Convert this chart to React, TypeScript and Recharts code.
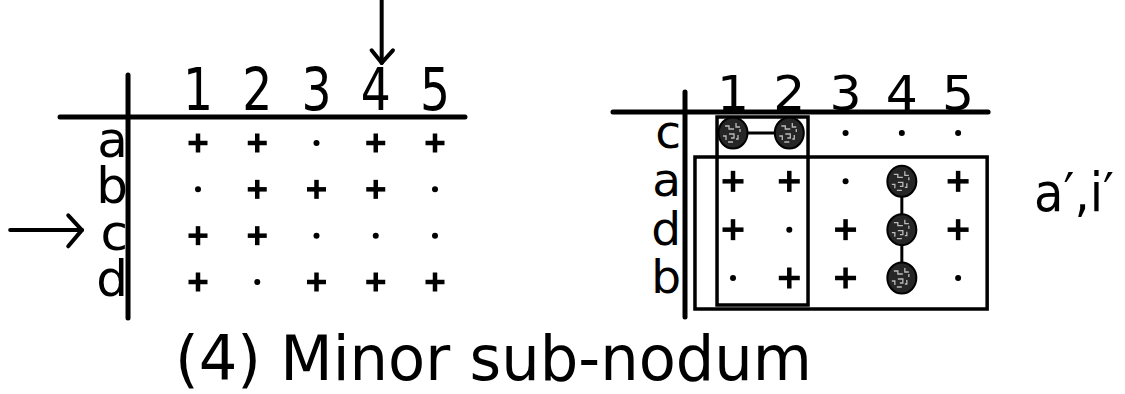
import React from 'react';
import { ScatterChart, Scatter, XAxis, YAxis, ReferenceLine, ReferenceArea } from 'recharts';

// ---------- data ----------
const COLUMN_LABELS = ['1', '2', '3', '4', '5'];
const LEFT_ROW_LABELS = ['a', 'b', 'c', 'd'];
const LEFT_ROW_MARKS = ['++.++', '.+++.', '++...', '+.+++'];
const RIGHT_ROW_LABELS = ['c', 'a', 'd', 'b'];
const RIGHT_ROW_MARKS = ['oo...', '++.o+', '+.+o+', '.++o.'];
const POINTED_COLUMN = 4;
const POINTED_ROW = 'c';
const CAPTION = '(4) Minor sub-nodum';
const SIDE_NOTE = 'a\u2032,i\u2032';

const FONT = "'DejaVu Sans', 'Liberation Sans', sans-serif";
const INK = '#000';

type Cell = { col: number; row: number; kind: string };

function toCells(marks: string[]): Cell[] {
  const out: Cell[] = [];
  marks.forEach((line, r) =>
    line.split('').forEach((k, c) => out.push({ col: c + 1, row: r + 1, kind: k }))
  );
  return out;
}

function linkedGroups(cells: Cell[]): Cell[][] {
  const circles = cells.filter((c) => c.kind === 'o');
  const groups: Cell[][] = [];
  Array.from(new Set(circles.map((c) => c.row))).forEach((r) => {
    const g = circles.filter((c) => c.row === r);
    if (g.length > 1) groups.push(g);
  });
  Array.from(new Set(circles.map((c) => c.col))).forEach((k) => {
    const g = circles.filter((c) => c.col === k);
    if (g.length > 1) groups.push(g);
  });
  return groups;
}

const leftCells = toCells(LEFT_ROW_MARKS);
const rightCells = toCells(RIGHT_ROW_MARKS);
const rightGroups = linkedGroups(rightCells);
const colTicks = COLUMN_LABELS.map((_, i) => i + 1);
const leftRowTicks = LEFT_ROW_LABELS.map((_, i) => i + 1);
const rightRowTicks = RIGHT_ROW_LABELS.map((_, i) => i + 1);

// ---------- shapes ----------
const makeMark = (size: number, sw: number, dotR: number) => (props: any) => {
  const { cx, cy, payload } = props;
  if (payload.kind === '+') {
    return (
      <g>
        <line x1={cx - size / 2} y1={cy} x2={cx + size / 2} y2={cy} stroke={INK} strokeWidth={sw} />
        <line x1={cx} y1={cy - size / 2} x2={cx} y2={cy + size / 2} stroke={INK} strokeWidth={sw} />
      </g>
    );
  }
  if (payload.kind === '.') return <circle cx={cx} cy={cy} r={dotR} fill={INK} />;
  return <g />;
};

const Blob = (props: any) => {
  const { cx, cy } = props;
  return (
    <g>
      <ellipse cx={cx} cy={cy} rx={14.5} ry={15.5} fill="#262626" stroke={INK} strokeWidth={2} />
      <path
        d={`M${cx - 8},${cy - 7} h4 v3 h4 M${cx - 4},${cy + 1} h5 v4 h-3 M${cx + 3},${cy - 10} v4 h4 M${cx - 10},${cy + 3} h3 v4 M${cx + 5},${cy + 2} v4 h-2 M${cx - 2},${cy - 4} h3 M${cx - 5},${cy + 9} h5 M${cx + 7},${cy - 4} v3`}
        stroke="#bbb"
        strokeWidth={1.3}
        fill="none"
      />
    </g>
  );
};

const colTick = (fontSize: number, sx: number, dy: number) => (p: any) => (
  <text
    transform={`translate(${p.x},${p.y + dy}) scale(${sx},1)`}
    textAnchor="middle"
    fontSize={fontSize}
    fontFamily={FONT}
    fill={INK}
  >
    {COLUMN_LABELS[p.payload.value - 1]}
  </text>
);

const rowTick = (labels: string[], fontSize: number, dx: number, dy: number) => (p: any) => (
  <text x={p.x + dx} y={p.y + dy} textAnchor="end" fontSize={fontSize} fontFamily={FONT} fill={INK}>
    {labels[p.payload.value - 1]}
  </text>
);

const seg = (x1: number, y1: number, x2: number, y2: number, w: number, key: string) => (
  <ReferenceLine
    key={key}
    segment={[{ x: x1, y: y1 }, { x: x2, y: y2 }]}
    stroke={INK}
    strokeWidth={w}
    strokeLinecap="round"
    ifOverflow="visible"
  />
);

export default function App() {
  const pc = POINTED_COLUMN + 0.1;
  const pr = LEFT_ROW_LABELS.indexOf(POINTED_ROW) + 1 - 0.12;
  return (
    <div style={{ position: 'absolute', left: 0, top: 0, width: 1125, height: 394, background: '#fff', overflow: 'hidden' }}>
      {/* left matrix */}
      <div style={{ position: 'absolute', left: 0, top: 0 }}>
        <ScatterChart
          width={500}
          height={330}
          margin={{ top: 69.835, right: 35.375, bottom: 24.83, left: 48 }}
        >
          <XAxis
            type="number"
            dataKey="col"
            orientation="top"
            domain={[0.5, 5.5]}
            ticks={colTicks}
            interval={0}
            height={50}
            padding={{ left: 40.375, right: 0 }}
            axisLine={false}
            tickLine={false}
            tickSize={0}
            tickMargin={0}
            tick={colTick(59, 0.8, -9.8)}
          />
          <YAxis
            type="number"
            dataKey="row"
            reversed
            domain={[0.5, 4.5]}
            ticks={leftRowTicks}
            interval={0}
            width={80}
            axisLine={false}
            tickLine={false}
            tickSize={0}
            tickMargin={0}
            tick={rowTick(LEFT_ROW_LABELS, 50, 0, 14)}
          />
          {seg(-1.329, 0.439, 5.506, 0.439, 5, 'h')}
          {seg(-0.181, -0.468, -0.181, 4.777, 5, 'v')}
          {seg(pc, -2.1, pc, -0.73, 4, 'ta')}
          {seg(pc - 0.17, -1.0, pc, -0.73, 4, 'th1')}
          {seg(pc + 0.19, -1.0, pc, -0.73, 4, 'th2')}
          {seg(-2.17, pr, -0.96, pr, 4, 'la')}
          {seg(-1.19, pr - 0.32, -0.96, pr, 4, 'lh1')}
          {seg(-1.19, pr + 0.35, -0.96, pr, 4, 'lh2')}
          <Scatter data={leftCells} shape={makeMark(19, 4.5, 3)} isAnimationActive={false} />
        </ScatterChart>
      </div>

      {/* right matrix */}
      <div style={{ position: 'absolute', left: 560, top: 0 }}>
        <ScatterChart
          width={565}
          height={330}
          margin={{ top: 58.83, right: 138.75, bottom: 27.83, left: 45 }}
        >
          <XAxis
            type="number"
            dataKey="col"
            orientation="top"
            domain={[0.5, 5.5]}
            ticks={colTicks}
            interval={0}
            height={50}
            padding={{ left: 19.875, right: 0 }}
            axisLine={false}
            tickLine={false}
            tickSize={0}
            tickMargin={0}
            tick={colTick(48, 1.05, 1.2)}
          />
          <YAxis
            type="number"
            dataKey="row"
            reversed
            domain={[0.5, 4.5]}
            ticks={rightRowTicks}
            interval={0}
            width={80}
            axisLine={false}
            tickLine={false}
            tickSize={0}
            tickMargin={0}
            tick={rowTick(RIGHT_ROW_LABELS, 47, -4, 15)}
          />
          {seg(-1.133, 0.5655, 5.533, 0.5655, 5, 'h')}
          {seg(0.147, 0.152, 0.147, 4.807, 5, 'v')}
          <ReferenceArea x1={0.716} x2={2.333} y1={0.669} y2={4.559} fill="none" stroke={INK} strokeWidth={3.5} ifOverflow="visible" />
          <ReferenceArea x1={0.324} x2={5.516} y1={1.497} y2={4.642} fill="none" stroke={INK} strokeWidth={3.5} ifOverflow="visible" />
          <Scatter data={rightCells} shape={makeMark(21, 4.5, 3)} isAnimationActive={false} />
          {rightGroups.map((g, i) => (
            <Scatter
              key={`g${i}`}
              data={g}
              stroke={INK}
              line={{ stroke: INK, strokeWidth: 3 }}
              shape={Blob}
              isAnimationActive={false}
            />
          ))}
        </ScatterChart>
      </div>

      {/* texts */}
      <svg width={1125} height={394} style={{ position: 'absolute', left: 0, top: 0, pointerEvents: 'none' }}>
        <text x={175} y={380} fontSize={63} fontFamily={FONT} fill={INK} textLength={637} lengthAdjust="spacingAndGlyphs">
          {CAPTION}
        </text>
        <text x={1034} y={211} fontSize={54} fontFamily={FONT} fill={INK} textLength={80} lengthAdjust="spacingAndGlyphs">
          {SIDE_NOTE}
        </text>
      </svg>
    </div>
  );
}
